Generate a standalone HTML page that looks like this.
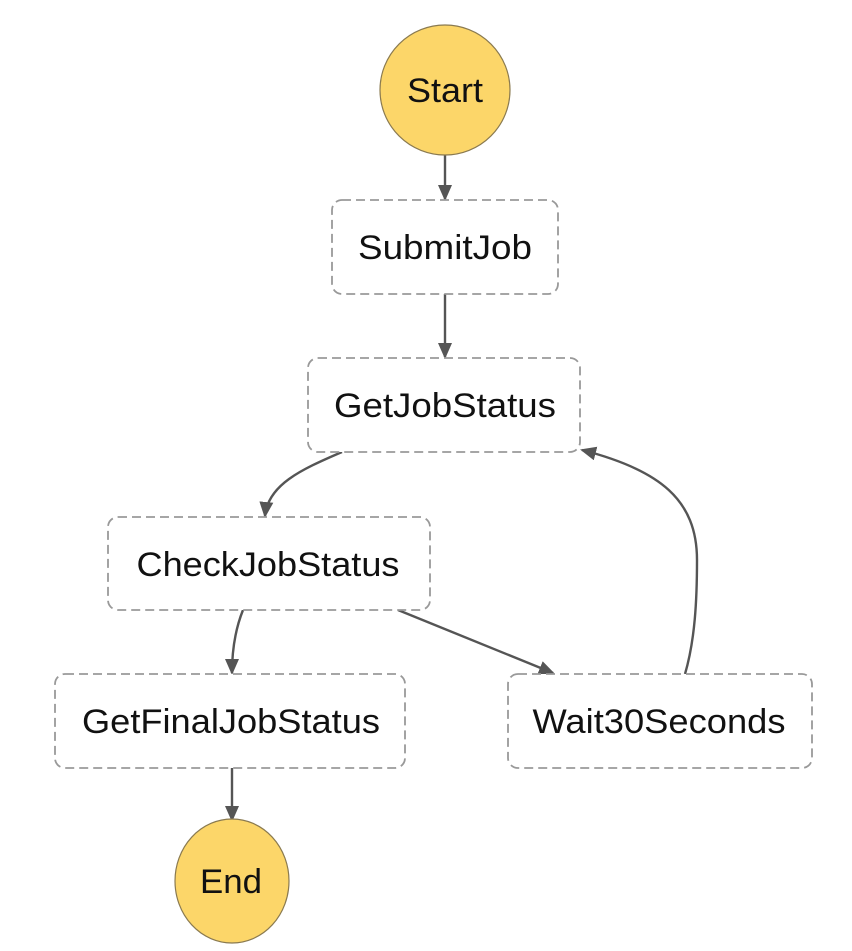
<!DOCTYPE html>
<html><head><style>
html,body{margin:0;padding:0;background:#fff;}
</style></head><body>
<svg width="852" height="946" viewBox="0 0 852 946" xmlns="http://www.w3.org/2000/svg" font-family="Liberation Sans, Arial, sans-serif">
<defs>
<marker id="a" markerWidth="16" markerHeight="14" refX="14" refY="7" orient="auto" markerUnits="userSpaceOnUse" viewBox="0 0 16 14">
<path d="M0,0 L16,7 L0,14 z" fill="#555"/>
</marker>
</defs>
<g fill="none" stroke="#555" stroke-width="2.4">
<path d="M445,155 L445,199" marker-end="url(#a)"/>
<path d="M445,294 L445,357" marker-end="url(#a)"/>
<path d="M342,452 C300,470 268,485 265,516" marker-end="url(#a)"/>
<path d="M243,610 C235,630 232,650 232,673" marker-end="url(#a)"/>
<path d="M398,610 L553,673" marker-end="url(#a)"/>
<path d="M685,674 C695,640 697,600 697,560 C697,500 660,470 582,450" marker-end="url(#a)"/>
<path d="M232,768 L232,820" marker-end="url(#a)"/>
</g>
<circle cx="445" cy="90" r="65" fill="#fcd669" stroke="#8a7a50" stroke-width="1.2"/>
<ellipse cx="232" cy="881" rx="57" ry="62" fill="#fcd669" stroke="#8a7a50" stroke-width="1.2"/>
<g fill="#fff" stroke="#999" stroke-width="1.8" stroke-dasharray="9,5">
<rect x="332" y="200" width="226" height="94" rx="10"/>
<rect x="308" y="358" width="272" height="94" rx="10"/>
<rect x="108" y="517" width="322" height="93" rx="10"/>
<rect x="55" y="674" width="350" height="94" rx="10"/>
<rect x="508" y="674" width="304" height="94" rx="10"/>
</g>
<g font-size="34" fill="#111" text-anchor="middle">
<text x="445" y="102" textLength="76" lengthAdjust="spacingAndGlyphs">Start</text>
<text x="445" y="259" textLength="174" lengthAdjust="spacingAndGlyphs">SubmitJob</text>
<text x="445" y="417" textLength="222" lengthAdjust="spacingAndGlyphs">GetJobStatus</text>
<text x="268" y="576" textLength="263" lengthAdjust="spacingAndGlyphs">CheckJobStatus</text>
<text x="231" y="733" textLength="298" lengthAdjust="spacingAndGlyphs">GetFinalJobStatus</text>
<text x="659" y="733" textLength="253" lengthAdjust="spacingAndGlyphs">Wait30Seconds</text>
<text x="231" y="893" textLength="62" lengthAdjust="spacingAndGlyphs">End</text>
</g>
</svg>
</body></html>
